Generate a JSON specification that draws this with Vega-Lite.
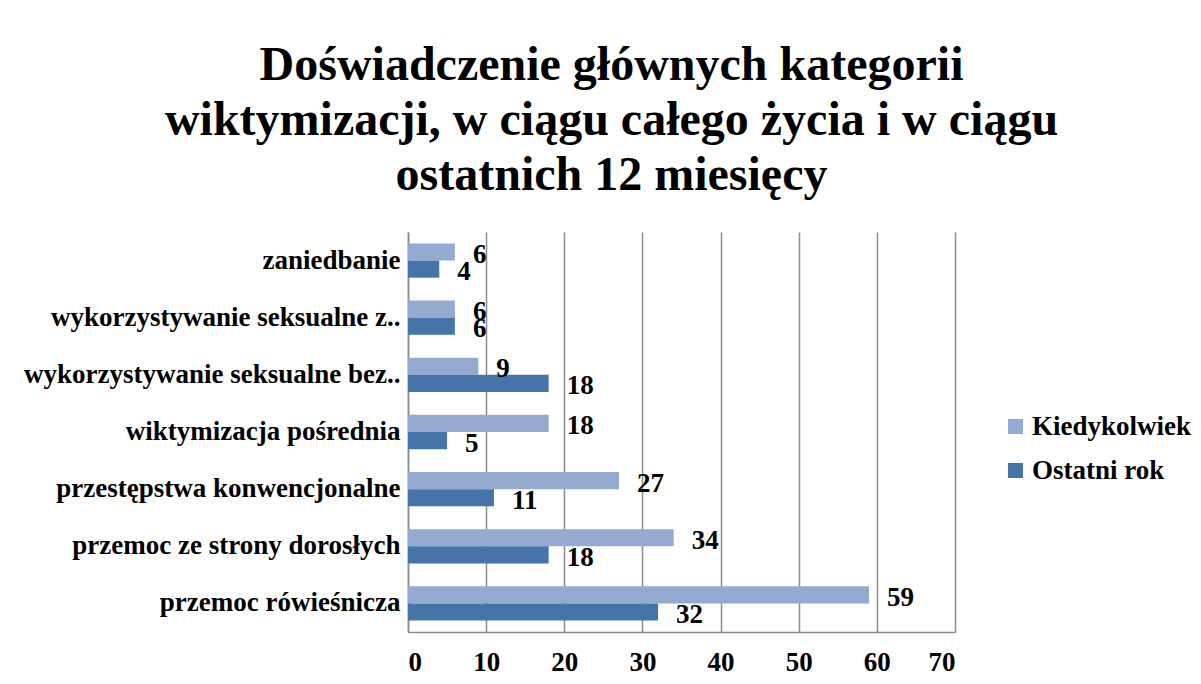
{
  "$schema": "https://vega.github.io/schema/vega-lite/v6.json",
  "width": 547,
  "height": 400,
  "autosize": "none",
  "padding": {"left": 408, "top": 232, "right": 246, "bottom": 52},
  "background": "white",
  "title": {
    "text": ["Doświadczenie głównych kategorii", "wiktymizacji, w ciągu całego życia i w ciągu", "ostatnich 12 miesięcy"],
    "font": "Times New Roman, Liberation Serif",
    "fontSize": 48,
    "fontWeight": "bold",
    "color": "black",
    "anchor": "middle",
    "frame": "group",
    "dx": -70,
    "lineHeight": 55,
    "offset": 32
  },
  "data": {
    "values": [
      {"kategoria": "zaniedbanie", "seria": "Kiedykolwiek", "wartosc": 6},
      {"kategoria": "zaniedbanie", "seria": "Ostatni rok", "wartosc": 4},
      {"kategoria": "wykorzystywanie seksualne z..", "seria": "Kiedykolwiek", "wartosc": 6},
      {"kategoria": "wykorzystywanie seksualne z..", "seria": "Ostatni rok", "wartosc": 6},
      {"kategoria": "wykorzystywanie seksualne bez..", "seria": "Kiedykolwiek", "wartosc": 9},
      {"kategoria": "wykorzystywanie seksualne bez..", "seria": "Ostatni rok", "wartosc": 18},
      {"kategoria": "wiktymizacja pośrednia", "seria": "Kiedykolwiek", "wartosc": 18},
      {"kategoria": "wiktymizacja pośrednia", "seria": "Ostatni rok", "wartosc": 5},
      {"kategoria": "przestępstwa konwencjonalne", "seria": "Kiedykolwiek", "wartosc": 27},
      {"kategoria": "przestępstwa konwencjonalne", "seria": "Ostatni rok", "wartosc": 11},
      {"kategoria": "przemoc ze strony dorosłych", "seria": "Kiedykolwiek", "wartosc": 34},
      {"kategoria": "przemoc ze strony dorosłych", "seria": "Ostatni rok", "wartosc": 18},
      {"kategoria": "przemoc rówieśnicza", "seria": "Kiedykolwiek", "wartosc": 59},
      {"kategoria": "przemoc rówieśnicza", "seria": "Ostatni rok", "wartosc": 32}
    ]
  },
  "encoding": {
    "y": {
      "field": "kategoria",
      "type": "nominal",
      "sort": null,
      "title": null,
      "scale": {"paddingInner": 0.4, "paddingOuter": 0.2},
      "axis": {
        "labelFont": "Times New Roman, Liberation Serif",
        "labelFontSize": 27,
        "labelFontWeight": "bold",
        "labelColor": "black",
        "labelPadding": 8,
        "labelLimit": 420,
        "domainColor": "#8c8c8c",
        "domainWidth": 1.5,
        "ticks": false
      }
    },
    "x": {
      "field": "wartosc",
      "type": "quantitative",
      "title": null,
      "scale": {"domain": [0, 70]},
      "axis": {
        "values": [0, 10, 20, 30, 40, 50, 60, 70],
        "labelFont": "Times New Roman, Liberation Serif",
        "labelFontSize": 27,
        "labelFontWeight": "bold",
        "labelColor": "black",
        "labelPadding": 17,
        "ticks": false,
        "grid": true,
        "gridColor": "#8c8c8c",
        "gridWidth": 1.5,
        "domainColor": "#8c8c8c",
        "domainWidth": 1.5
      }
    },
    "yOffset": {"field": "seria", "type": "nominal", "sort": ["Kiedykolwiek", "Ostatni rok"]}
  },
  "layer": [
    {
      "mark": {"type": "bar"},
      "encoding": {
        "color": {
          "field": "seria",
          "type": "nominal",
          "sort": ["Kiedykolwiek", "Ostatni rok"],
          "scale": {"domain": ["Kiedykolwiek", "Ostatni rok"], "range": ["#95aad1", "#4674a9"]},
          "legend": {
            "title": null,
            "orient": "none",
            "legendX": 594,
            "legendY": 181,
            "symbolType": "square",
            "symbolSize": 225,
            "symbolStrokeWidth": 0,
            "labelFont": "Times New Roman, Liberation Serif",
            "labelFontSize": 27,
            "labelFontWeight": "bold",
            "labelColor": "black",
            "rowPadding": 16,
            "labelOffset": 3
          }
        }
      }
    },
    {
      "mark": {"type": "text", "align": "left", "baseline": "middle", "dx": 18, "dy": 3, "font": "Times New Roman, Liberation Serif", "fontSize": 27, "fontWeight": "bold", "color": "black"},
      "encoding": {
        "text": {"field": "wartosc", "type": "quantitative"}
      }
    }
  ],
  "config": {
    "view": {"stroke": null}
  }
}
